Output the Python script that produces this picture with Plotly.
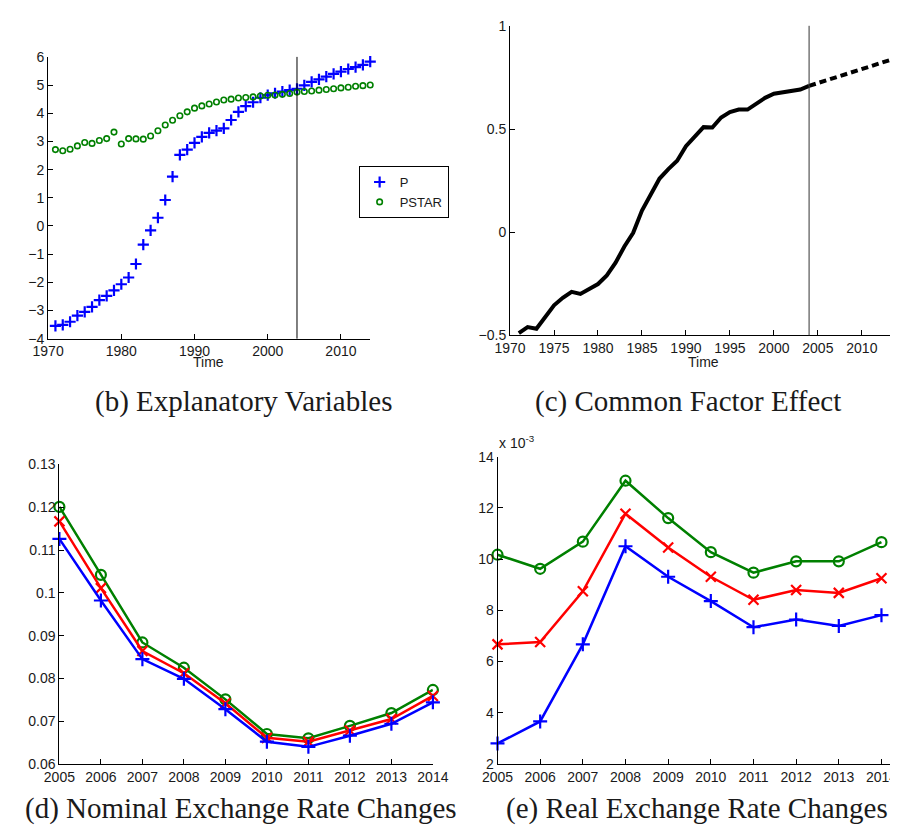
import plotly.graph_objects as go

# (b) explanatory variables
years_b = list(range(1971, 2015))
p_values = [-3.55, -3.51, -3.40, -3.18, -3.05, -2.87, -2.63, -2.48, -2.29, -2.07,
            -1.83, -1.35, -0.66, -0.16, 0.29, 0.92, 1.75, 2.52, 2.71, 2.95,
            3.16, 3.30, 3.38, 3.46, 3.76, 4.05, 4.25, 4.39, 4.55, 4.64,
            4.71, 4.77, 4.82, 4.87, 4.99, 5.11, 5.20, 5.30, 5.40, 5.48,
            5.57, 5.64, 5.72, 5.83]
pstar_values = [2.71, 2.67, 2.72, 2.84, 2.96, 2.93, 3.03, 3.10, 3.33, 2.91,
                3.10, 3.09, 3.08, 3.19, 3.38, 3.58, 3.75, 3.91, 4.05, 4.18,
                4.26, 4.33, 4.40, 4.47, 4.50, 4.54, 4.56, 4.58, 4.61, 4.64,
                4.65, 4.67, 4.70, 4.75, 4.77, 4.79, 4.82, 4.84, 4.87, 4.90,
                4.92, 4.96, 4.98, 5.00]

# (c) common factor effect
years_c = list(range(1971, 2005))
factor_values = [-0.489, -0.460, -0.468, -0.410, -0.354, -0.318, -0.289, -0.299, -0.274, -0.251,
                 -0.209, -0.148, -0.069, -0.003, 0.105, 0.184, 0.260, 0.306, 0.346, 0.417,
                 0.465, 0.509, 0.507, 0.556, 0.582, 0.594, 0.594, 0.623, 0.651, 0.671,
                 0.677, 0.686, 0.691, 0.709]
years_fc = list(range(2004, 2015))
factor_forecast = [0.709, 0.722, 0.736, 0.750, 0.763, 0.777, 0.791, 0.804, 0.818, 0.832, 0.845]

# (d) and (e) exchange rate changes
years_de = list(range(2005, 2015))
nominal_blue = [0.1126, 0.0982, 0.0845, 0.0799, 0.0728, 0.0652, 0.0640, 0.0666, 0.0694, 0.0744]
nominal_red = [0.1167, 0.1011, 0.0864, 0.0812, 0.0742, 0.0661, 0.0652, 0.0678, 0.0705, 0.0759]
nominal_green = [0.1201, 0.1042, 0.0884, 0.0825, 0.0751, 0.0670, 0.0660, 0.0689, 0.0719, 0.0773]
# real values in units of 1e-3
real_blue = [2.80, 3.66, 6.67, 10.50, 9.31, 8.36, 7.34, 7.64, 7.39, 7.81]
real_red = [6.67, 6.76, 8.74, 11.77, 10.45, 9.31, 8.41, 8.79, 8.68, 9.25]
real_green = [10.17, 9.62, 10.68, 13.06, 11.60, 10.27, 9.47, 9.91, 9.91, 10.66]

BLUE = 'rgb(0,0,255)'
RED = 'rgb(255,0,0)'
GREEN = 'rgb(0,128,0)'
TICKFONT = dict(family='Liberation Sans, Arial, sans-serif', size=14, color='#1a1a1a')
CAPFONT = dict(family='Liberation Serif, DejaVu Serif, serif', size=29, color='#1a1a1a')

W, H = 898, 828
def px_x(x):
    return x / W
def px_y(y):
    return 1 - y / H

fig = go.Figure()

# panel b
fig.add_trace(go.Scatter(x=years_b, y=p_values, mode='markers', name='P',
                         marker=dict(symbol='cross-thin', size=8, color=BLUE, line=dict(color=BLUE, width=2.2)),
                         xaxis='x', yaxis='y', cliponaxis=False))
fig.add_trace(go.Scatter(x=years_b, y=pstar_values, mode='markers', name='PSTAR',
                         marker=dict(symbol='circle-open', size=5.5, color=GREEN, line=dict(color=GREEN, width=1.6)),
                         xaxis='x', yaxis='y', cliponaxis=False))

# panel c
fig.add_trace(go.Scatter(x=years_c, y=factor_values, mode='lines', showlegend=False,
                         line=dict(color='black', width=4), xaxis='x2', yaxis='y2'))
fig.add_trace(go.Scatter(x=years_fc, y=factor_forecast, mode='lines', showlegend=False,
                         line=dict(color='black', width=4, dash='7px,4px'), xaxis='x2', yaxis='y2'))

# panels d and e
def add_three(blue, red, green, xa, ya):
    for vals, col, sym in [(green, GREEN, 'circle-open'), (red, RED, 'x-thin-open'), (blue, BLUE, 'cross-thin-open')]:
        fig.add_trace(go.Scatter(x=years_de, y=vals, mode='lines+markers', showlegend=False,
                                 line=dict(color=col, width=2.5),
                                 marker=dict(symbol=sym, size=10, color=col, line=dict(color=col, width=2.2)),
                                 xaxis=xa, yaxis=ya, cliponaxis=False))

add_three(nominal_blue, nominal_red, nominal_green, 'x3', 'y3')
add_three(real_blue, real_red, real_green, 'x4', 'y4')

axis_style = dict(showgrid=False, zeroline=False, showline=True, linecolor='black', linewidth=1,
                  ticks='inside', ticklen=5, tickcolor='black', tickfont=TICKFONT, mirror=False)

fig.update_layout(
    width=W, height=H, margin=dict(l=0, r=0, t=0, b=0),
    paper_bgcolor='white', plot_bgcolor='white',
    font=dict(family='Liberation Sans, Arial, sans-serif'),
    xaxis=dict(axis_style, domain=[px_x(25), px_x(359)], range=[1970, 2014],
               tickvals=[1970, 1980, 1990, 2000, 2010], anchor='y'),
    yaxis=dict(axis_style, domain=[px_y(329), px_y(41.7)], range=[-4, 6], dtick=1, anchor='x'),
    xaxis2=dict(axis_style, domain=[px_x(504), 1], range=[1970, 2013.2],
                tickvals=[1970, 1975, 1980, 1985, 1990, 1995, 2000, 2005, 2010], anchor='y2'),
    yaxis2=dict(axis_style, domain=[px_y(325.7), px_y(10)], range=[-0.5, 1],
                tickvals=[-0.5, 0, 0.5, 1], anchor='x2'),
    xaxis3=dict(axis_style, domain=[px_x(36.7), px_x(424)], range=[2005, 2014],
                tickvals=years_de, anchor='y3'),
    yaxis3=dict(axis_style, domain=[px_y(762.7), px_y(457.3)], range=[0.06, 0.13],
                tickvals=[0.06, 0.07, 0.08, 0.09, 0.1, 0.11, 0.12, 0.13],
                ticktext=['0.06', '0.07', '0.08', '0.09', '0.1', '0.11', '0.12', '0.13'], anchor='x3'),
    xaxis4=dict(axis_style, domain=[px_x(491), 1], range=[2005, 2014.2],
                tickvals=years_de, anchor='y4'),
    yaxis4=dict(axis_style, domain=[px_y(762.7), px_y(449.3)], range=[2, 14],
                tickvals=[2, 4, 6, 8, 10, 12, 14], anchor='x4'),
    legend=dict(x=px_x(347), y=px_y(153), xanchor='left', yanchor='top',
                bordercolor='black', borderwidth=1, bgcolor='white',
                font=dict(family='Liberation Sans, Arial, sans-serif', size=13, color='#1a1a1a'),
                tracegroupgap=0, itemwidth=30),
    showlegend=True,
)

# vertical lines at 2004
fig.add_shape(type='line', xref='x', yref='y domain', x0=2004, x1=2004, y0=0, y1=1,
              line=dict(color='black', width=1))
fig.add_shape(type='line', xref='x2', yref='y2 domain', x0=2004, x1=2004, y0=0, y1=1,
              line=dict(color='#333', width=1))

# axis titles
fig.add_annotation(text='Time', x=px_x(191.7), y=px_y(353), xref='paper', yref='paper',
                   showarrow=False, font=TICKFONT, xanchor='center', yanchor='middle')
fig.add_annotation(text='Time', x=px_x(705), y=px_y(353), xref='paper', yref='paper',
                   showarrow=False, font=TICKFONT, xanchor='center', yanchor='middle')
fig.add_annotation(text='x 10<sup>-3</sup>', x=px_x(490), y=px_y(446), xref='paper', yref='paper',
                   showarrow=False, font=TICKFONT, xanchor='left', yanchor='bottom')

# captions
captions = [('(b) Explanatory Variables', 228, 393),
            ('(c) Common Factor Effect', 689, 393),
            ('(d) Nominal Exchange Rate Changes', 225, 808),
            ('(e) Real Exchange Rate Changes', 698, 808)]
for txt, cx, cy in captions:
    fig.add_annotation(text=txt, x=px_x(cx), y=px_y(cy), xref='paper', yref='paper',
                       showarrow=False, font=CAPFONT, xanchor='center', yanchor='middle')

fig.write_html("out.html")
